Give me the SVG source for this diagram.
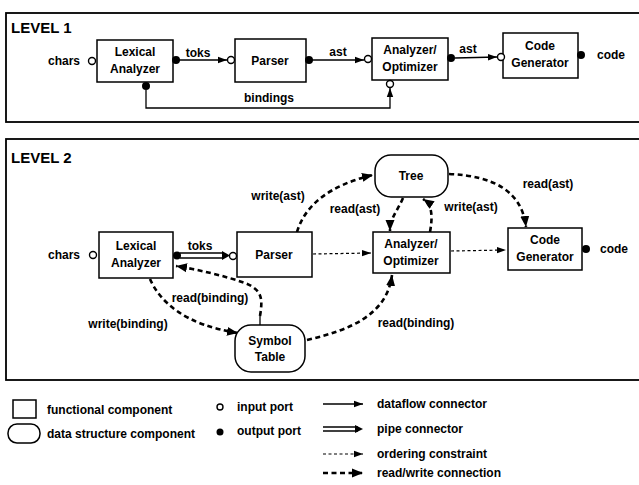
<svg xmlns="http://www.w3.org/2000/svg" width="639" height="485" viewBox="0 0 639 485">
<style>
text{font-family:"Liberation Sans",Arial,sans-serif;font-weight:bold;font-size:12px;fill:#000}
.lvl{font-size:15px}
.nl{text-anchor:middle}
.box{fill:#fff;stroke:#000;stroke-width:1.5}
.frame{fill:none;stroke:#000;stroke-width:1.8}
.in{fill:#fff;stroke:#000;stroke-width:1.4}
.out{fill:#000}
.flow{fill:none;stroke:#000;stroke-width:1.3}
.pipe{fill:none;stroke:#000;stroke-width:1.3}
.ord{fill:none;stroke:#000;stroke-width:1.2;stroke-dasharray:3 2.5}
.rw{fill:none;stroke:#000;stroke-width:2.6;stroke-dasharray:5 3.5}
</style>
<defs>
<marker id="ah" markerUnits="userSpaceOnUse" markerWidth="10" markerHeight="8" refX="9" refY="4" orient="auto">
<path d="M0,0.8 L9,4 L0,7.2 Z" fill="#000"/>
</marker>
<marker id="ahb" markerUnits="userSpaceOnUse" markerWidth="12" markerHeight="10" refX="11" refY="5" orient="auto">
<path d="M0,0.5 L11,5 L0,9.5 Z" fill="#000"/>
</marker>
</defs>

<rect class="frame" x="6" y="13" width="640" height="109"/>
<text class="lvl" x="11" y="33">LEVEL 1</text>
<rect class="frame" x="6" y="139" width="640" height="241"/>
<text class="lvl" x="11" y="163">LEVEL 2</text>

<g id="connectors">
<!-- level 1 -->
<line class="flow" x1="179" y1="60" x2="227" y2="60" marker-end="url(#ah)"/>
<line class="flow" x1="312" y1="60" x2="364" y2="60" marker-end="url(#ah)"/>
<line class="flow" x1="455" y1="58" x2="497" y2="57" marker-end="url(#ah)"/>
<path class="flow" d="M146,90 L146,108 L390,108 L390,88" marker-end="url(#ah)"/>
<!-- level 2 -->
<line class="pipe" x1="180" y1="253" x2="224" y2="253"/>
<line class="pipe" x1="180" y1="258" x2="224" y2="258"/>
<path d="M222,251 L230,255.5 L222,260 Z" fill="#000"/>
<line class="ord" x1="313" y1="254" x2="371" y2="253" marker-end="url(#ah)"/>
<line class="ord" x1="451" y1="251" x2="506" y2="250" marker-end="url(#ah)"/>
<path class="rw" d="M297,232 C305,205 330,185 373,175" marker-end="url(#ahb)"/>
<path class="rw" d="M403,198 C398,210 390,218 390,231" marker-end="url(#ahb)"/>
<path class="rw" d="M430,232 C433,215 432,205 423,199" marker-end="url(#ahb)"/>
<path class="rw" d="M449,174 C495,176 522,192 526,227" marker-end="url(#ahb)"/>
<path class="rw" d="M150,279 C160,302 185,325 238,333" marker-end="url(#ahb)"/>
<line class="flow" x1="260" y1="325" x2="260" y2="316"/>
<path class="rw" d="M260,316 C263,298 262,290 245,283 C225,276 200,270 176,266" marker-end="url(#ahb)"/>
<path class="rw" d="M307,340 C350,330 387,315 392,275" marker-end="url(#ahb)"/>
</g>

<g id="l1-lexical">
<rect class="box" x="97" y="40" width="76" height="42"/>
<text class="nl" x="135" y="56">Lexical</text>
<text class="nl" x="135" y="73">Analyzer</text>
<circle class="in" cx="92" cy="61" r="3.5"/>
<circle class="out" cx="176" cy="60" r="4"/>
<circle class="out" cx="146" cy="86" r="4"/>
</g>
<g id="l1-parser">
<rect class="box" x="235" y="39" width="71" height="43"/>
<text class="nl" x="270" y="65">Parser</text>
<circle class="in" cx="231" cy="60" r="3.5"/>
<circle class="out" cx="309" cy="60" r="4"/>
</g>
<g id="l1-analyzer">
<rect class="box" x="372" y="38" width="76" height="42"/>
<text class="nl" x="410" y="54">Analyzer/</text>
<text class="nl" x="410" y="71">Optimizer</text>
<circle class="in" cx="368" cy="59" r="3.5"/>
<circle class="out" cx="451" cy="58" r="4"/>
<circle class="in" cx="390" cy="84" r="3.5"/>
</g>
<g id="l1-codegen">
<rect class="box" x="503" y="33" width="75" height="45"/>
<text class="nl" x="540" y="50">Code</text>
<text class="nl" x="540" y="67">Generator</text>
<circle class="in" cx="501" cy="57" r="3.5"/>
<circle class="out" cx="581" cy="55" r="4"/>
</g>
<g id="l1-labels">
<text x="80" y="65" text-anchor="end">chars</text>
<text x="198" y="57" class="nl">toks</text>
<text x="338" y="56" class="nl">ast</text>
<text x="468" y="53" class="nl">ast</text>
<text x="597" y="59">code</text>
<text x="269" y="102" class="nl">bindings</text>
</g>

<g id="l2-lexical">
<rect class="box" x="99" y="232" width="74" height="46"/>
<text class="nl" x="136" y="250">Lexical</text>
<text class="nl" x="136" y="267">Analyzer</text>
<circle class="in" cx="93" cy="255" r="3.5"/>
<circle class="out" cx="177" cy="255.5" r="4"/>
</g>
<g id="l2-parser">
<rect class="box" x="237" y="232" width="75" height="45"/>
<text class="nl" x="274" y="259">Parser</text>
<circle class="in" cx="233" cy="256" r="3.5"/>
</g>
<g id="l2-tree">
<rect class="box" x="375" y="155" width="73" height="42" rx="16"/>
<text class="nl" x="411" y="180">Tree</text>
</g>
<g id="l2-analyzer">
<rect class="box" x="373" y="232" width="77" height="41"/>
<text class="nl" x="411" y="248">Analyzer/</text>
<text class="nl" x="411" y="265">Optimizer</text>
</g>
<g id="l2-codegen">
<rect class="box" x="508" y="228" width="74" height="42"/>
<text class="nl" x="545" y="244">Code</text>
<text class="nl" x="545" y="261">Generator</text>
<circle class="out" cx="586" cy="249" r="4"/>
</g>
<g id="l2-symtab">
<rect class="box" x="235" y="325" width="70" height="47" rx="16"/>
<text class="nl" x="270" y="345">Symbol</text>
<text class="nl" x="270" y="361">Table</text>
</g>
<g id="l2-labels">
<text x="80" y="259" text-anchor="end">chars</text>
<text x="200" y="250" class="nl">toks</text>
<text x="600" y="253">code</text>
<text x="278" y="200" class="nl">write(ast)</text>
<text x="355" y="213" class="nl">read(ast)</text>
<text x="471" y="211" class="nl">write(ast)</text>
<text x="548" y="188" class="nl">read(ast)</text>
<text x="210" y="302" class="nl">read(binding)</text>
<text x="128" y="328" class="nl">write(binding)</text>
<text x="416" y="327" class="nl">read(binding)</text>
</g>

<g id="legend">
<rect class="box" x="13" y="400" width="23" height="18"/>
<text x="47" y="414">functional component</text>
<rect class="box" x="8" y="424" width="32" height="19" rx="9"/>
<text x="47" y="438">data structure component</text>
<circle class="in" cx="220" cy="407" r="3"/>
<text x="237" y="411">input port</text>
<circle class="out" cx="220" cy="432" r="3.5"/>
<text x="237" y="435">output port</text>
<line class="flow" x1="323" y1="404" x2="363" y2="404" marker-end="url(#ah)"/>
<text x="377" y="408">dataflow connector</text>
<line class="pipe" x1="323" y1="427" x2="358" y2="427"/>
<line class="pipe" x1="323" y1="431" x2="358" y2="431"/>
<path d="M355,425 L363,429 L355,433 Z" fill="#000"/>
<text x="377" y="433">pipe connector</text>
<line class="ord" x1="323" y1="454" x2="363" y2="454" marker-end="url(#ah)"/>
<text x="377" y="458">ordering constraint</text>
<line class="rw" x1="323" y1="473" x2="363" y2="473" marker-end="url(#ahb)"/>
<text x="377" y="477">read/write connection</text>
</g>
</svg>
